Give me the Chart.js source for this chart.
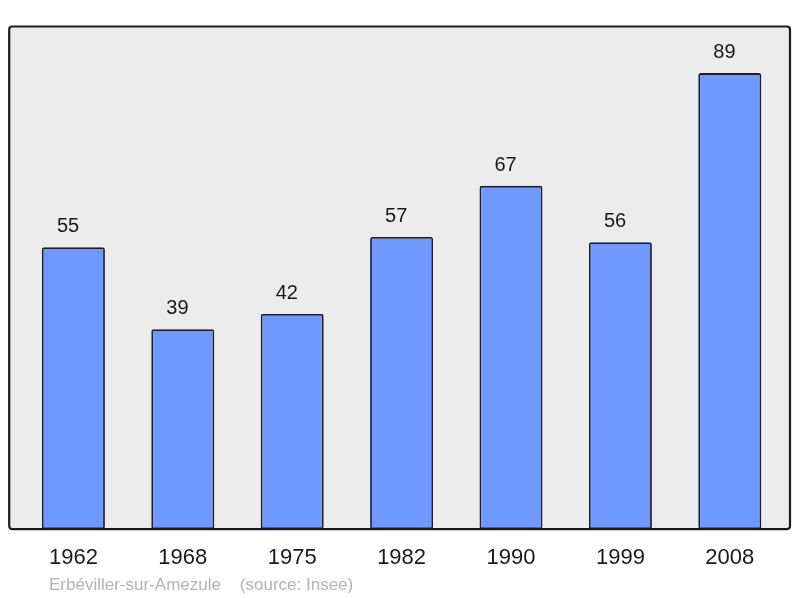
<!DOCTYPE html>
<html>
<head>
<meta charset="utf-8">
<script src="https://cdn.jsdelivr.net/npm/chart.js@4/dist/chart.umd.min.js"></script>
<style>
html,body{margin:0;padding:0;background:#fff;}
canvas{display:block;}
</style>
</head>
<body>
<canvas id="c" width="800" height="598"></canvas>
<script>
const years = ["1962","1968","1975","1982","1990","1999","2008"];
const population = [55, 39, 42, 57, 67, 56, 89];
const footerText = "Erbéviller-sur-Amezule    (source: Insee)";

const FONT = "'Liberation Sans', Arial, sans-serif";

const framePlugin = {
  id: 'frame',
  beforeDatasetsDraw(chart) {
    const ctx = chart.ctx, a = chart.chartArea;
    const x0 = a.left - 9.5, x1 = a.right + 5.5, y0 = a.top - 0.5, y1 = a.bottom;
    ctx.save();
    ctx.beginPath();
    ctx.roundRect(x0, y0, x1 - x0, y1 - y0, 3);
    ctx.fillStyle = '#ececec';
    ctx.fill();
    ctx.restore();
  },
  afterDatasetsDraw(chart) {
    const ctx = chart.ctx, a = chart.chartArea;
    const x0 = a.left - 9.5, x1 = a.right + 5.5, y0 = a.top - 0.5, y1 = a.bottom;
    ctx.save();
    ctx.beginPath();
    ctx.roundRect(x0, y0, x1 - x0, y1 - y0, 3);
    ctx.lineWidth = 2.2;
    ctx.strokeStyle = '#1c1c1c';
    ctx.stroke();
    // value labels
    const meta = chart.getDatasetMeta(0);
    ctx.fillStyle = '#1a1a1a';
    ctx.font = '20px ' + FONT;
    ctx.textAlign = 'left';
    ctx.textBaseline = 'middle';
    meta.data.forEach((bar, i) => {
      const p = bar.getProps(['x', 'y', 'width'], true);
      ctx.fillText(String(population[i]), p.x - p.width / 2 + 15, p.y - 20.5);
    });
    // footer
    ctx.fillStyle = '#b3b3b3';
    ctx.font = '17px ' + FONT;
    ctx.textAlign = 'left';
    ctx.textBaseline = 'alphabetic';
    ctx.fillText(footerText, 49, 590);
    ctx.restore();
  }
};

new Chart(document.getElementById('c'), {
  type: 'bar',
  data: {
    labels: years,
    datasets: [{
      data: population,
      backgroundColor: '#7099ff',
      borderColor: '#1c1c2c',
      borderWidth: 1.8,
      borderRadius: 2,
      borderSkipped: false,
      categoryPercentage: 1,
      barPercentage: 0.576
    }]
  },
  options: {
    responsive: false,
    animation: false,
    events: [],
    layout: { padding: { left: 18.7, right: 15.5, top: 27, bottom: 10.5 } },
    plugins: { legend: { display: false }, tooltip: { enabled: false }, title: { display: false } },
    scales: {
      x: {
        grid: { display: false, drawTicks: false, tickLength: 0 },
        border: { display: false },
        ticks: { color: '#1a1a1a', font: { family: FONT, size: 22 }, padding: 16, maxRotation: 0 }
      },
      y: { display: false, min: 0, max: 98 }
    }
  },
  plugins: [framePlugin]
});
</script>
</body>
</html>
